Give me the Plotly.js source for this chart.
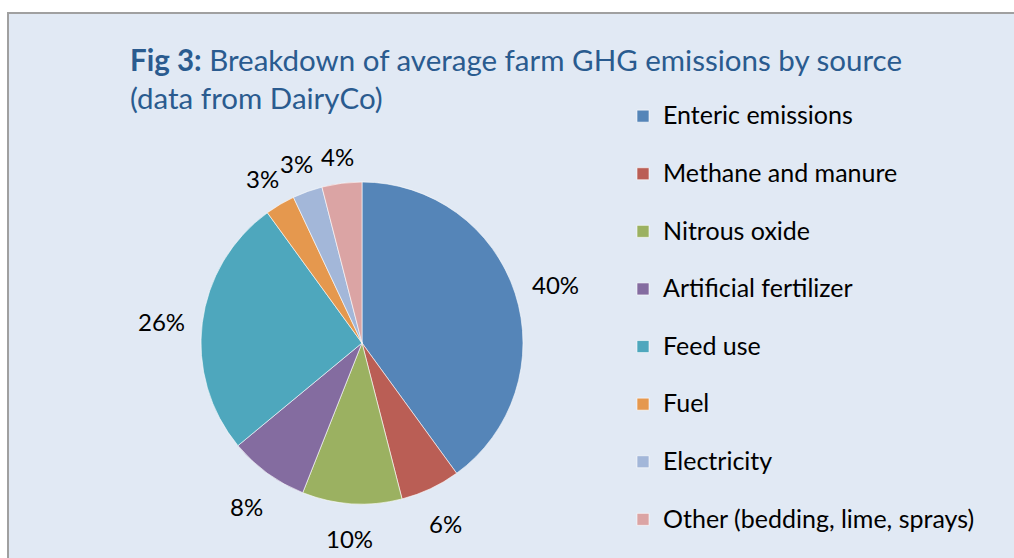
<!DOCTYPE html>
<html>
<head>
<meta charset="utf-8">
<script src="https://cdn.plot.ly/plotly-3.0.1.min.js"></script>
<style>html,body{margin:0;padding:0;background:#fff;}#chart{width:1014px;height:558px;}</style>
</head>
<body>
<div id="chart"></div>
<script>
const categories = ['Enteric emissions','Methane and manure','Nitrous oxide','Artificial fertilizer','Feed use','Fuel','Electricity','Other (bedding, lime, sprays)'];
const values = [40, 6, 10, 8, 26, 3, 3, 4];
const sliceColors = ['#5585B8','#BA5E55','#9BB161','#846CA0','#4EA7BD','#E5984E','#A3B7D9','#DBA4A4'];

const W = 1014, H = 558;
const FONT = 'Lato, "Open Sans", sans-serif';
// pie geometry (pixels)
const cx = 362, cy = 343, R = 161;

const total = values.reduce((a, b) => a + b, 0);
let cum = 0;
const annotations = values.map((v, i) => {
  const mid = (cum + v / 2) / total;
  cum += v;
  const th = mid * 2 * Math.PI;
  const sx = Math.sin(th), sy = -Math.cos(th);
  const txt = Math.round(v / total * 100) + '%';
  const hw = txt.length * 7.7, hh = 12;
  const d = R + 17 + Math.abs(sx) * hw + Math.abs(sy) * hh;
  const px = cx + d * sx, py = cy + d * sy + 4;
  return {
    x: px / W, y: 1 - py / H, xref: 'paper', yref: 'paper',
    xanchor: 'center', yanchor: 'middle', showarrow: false,
    text: txt, font: {family: FONT, size: 24, color: '#000000'}
  };
});

// legend labels: larger visible text, with a spacer line for the row spacing
const legendLabels = categories.map((c, i) =>
  '<span style="font-size:25px">' + c + '</span>' + (i < categories.length - 1 ? '<br> ' : ''));

const trace = {
  type: 'pie',
  labels: legendLabels,
  values: values,
  sort: false,
  direction: 'clockwise',
  rotation: 0,
  textinfo: 'none',
  hoverinfo: 'percent',
  marker: {colors: sliceColors, line: {color: '#FFFFFF', width: 0.6}},
  domain: {x: [(cx - R) / W, (cx + R) / W], y: [1 - (cy + R) / H, 1 - (cy - R) / H]}
};

const layout = {
  width: W, height: H,
  margin: {l: 0, r: 0, t: 0, b: 0, autoexpand: false},
  paper_bgcolor: '#FFFFFF',
  font: {family: FONT, color: '#000000'},
  title: {
    text: '<b>Fig 3:</b> Breakdown of average farm GHG emissions by source<br>(data from DairyCo)',
    x: 130 / W, xanchor: 'left', xref: 'paper',
    y: 1 - 71 / H, yanchor: 'top', yref: 'container',
    font: {family: FONT, size: 29.5, color: '#2A5B8F'}
  },
  showlegend: true,
  legend: {
    x: 623 / W, xanchor: 'left', y: 1 - 96 / H, yanchor: 'top',
    bgcolor: 'rgba(0,0,0,0)', valign: 'top',
    font: {family: FONT, size: 21, color: '#000000'}
  },
  shapes: [{
    type: 'rect', xref: 'paper', yref: 'paper', layer: 'below',
    x0: 8 / W, x1: 1.05, y0: -0.05, y1: 1 - 13 / H,
    fillcolor: '#E1E9F4', line: {color: '#A0A0A0', width: 2}
  }],
  annotations: annotations
};

Plotly.newPlot('chart', [trace], layout, {displayModeBar: false, staticPlot: true});
</script>
</body>
</html>
